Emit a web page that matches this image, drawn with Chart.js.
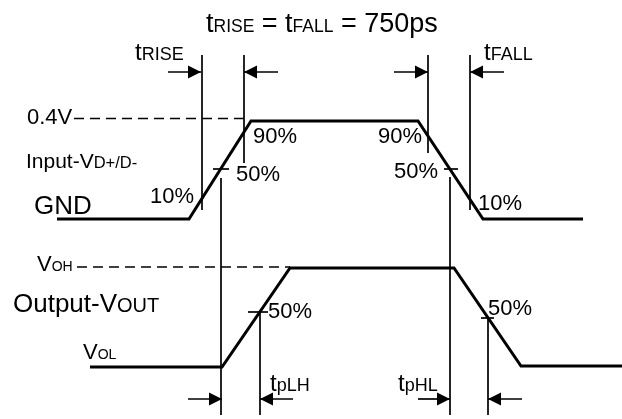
<!DOCTYPE html>
<html>
<head>
<meta charset="utf-8">
<script src="https://cdn.jsdelivr.net/npm/chart.js@4.4.1/dist/chart.umd.min.js"></script>
<style>
  html, body { margin: 0; padding: 0; background: #fff; }
  #wrap { width: 622px; height: 419px; }
</style>
</head>
<body>
<div id="wrap"><canvas id="timing" width="622" height="419"></canvas></div>
<script>
// diagram units: x runs 0..622 left to right, y runs 0..419 top to bottom
var inputX = [57, 189, 251, 418, 483, 583];
var inputY = [219, 219, 121, 121, 219, 219];
var outputX = [90, 222, 290, 454, 521, 622];
var outputY = [367, 367, 268, 268, 366, 366];

// dashed reference levels (0.4V and VOH)
var levelY = [118.5, 267];
var levelStart = [74, 77];
var levelEnd = [249, 290];

// vertical measurement lines
var markerX = [202, 244, 428, 470, 221, 450, 260, 488];
var markerTop = [55, 55, 55, 55, 178, 177, 312, 318];
var markerBottom = [210, 163, 153, 210, 415, 415, 415, 415];

// short 50% ticks
var tickY = [169, 169, 312, 318];
var tickStart = [213, 444, 248, 481];
var tickEnd = [229, 458, 268, 494];

// arrows: tail -> head
var arrowY = [72, 72, 72, 72, 399, 399, 399, 399];
var arrowTail = [168, 278, 394, 504, 188, 293, 418, 522];
var arrowHead = [201, 244, 428, 470, 222, 260, 450, 488];

// labels: [x, baseline, [text, size], [text, size] ...]
var labels = [
    [206, 32, ["t", 27], ["RISE", 17.5], [" = t", 27], ["FALL", 17.5], [" = 750ps", 27]],
    [135, 60, ["t", 24], ["RISE", 18]],
    [484, 60, ["t", 24], ["FALL", 18]],
    [27, 124, ["0.4V", 22]],
    [26, 168, ["Input-V", 21], ["D+/D-", 16.5]],
    [34, 214, ["GND", 26]],
    [150, 203, ["10%", 22]],
    [236, 181, ["50%", 22]],
    [253, 143, ["90%", 22]],
    [378, 143, ["90%", 22]],
    [394, 178, ["50%", 22]],
    [478, 210, ["10%", 22]],
    [37, 271, ["V", 22], ["OH", 14]],
    [13, 312, ["Output-V", 26], ["OUT", 20]],
    [83, 359, ["V", 22], ["OL", 14]],
    [268, 318, ["50%", 22]],
    [488, 315, ["50%", 22]],
    [270, 391, ["t", 24], ["pLH", 18]],
    [398, 391, ["t", 24], ["pHL", 18]]
];

var fontFamily = "'Liberation Sans', Arial, sans-serif";

function seg(x1, y1, x2, y2, width, dash) {
    return {
        data: [{x: x1, y: y1}, {x: x2, y: y2}],
        borderColor: "#000",
        borderWidth: width,
        borderDash: dash || [],
        pointRadius: 0,
        fill: false,
        tension: 0
    };
}

var datasets = [];
var inputData = [], outputData = [];
for (let i = 0; i < inputX.length; i++) inputData.push({x: inputX[i], y: inputY[i]});
for (let i = 0; i < outputX.length; i++) outputData.push({x: outputX[i], y: outputY[i]});
datasets.push({data: inputData, borderColor: "#000", borderWidth: 3, pointRadius: 0, tension: 0, borderJoinStyle: "miter"});
datasets.push({data: outputData, borderColor: "#000", borderWidth: 3, pointRadius: 0, tension: 0, borderJoinStyle: "miter"});

for (let i = 0; i < levelY.length; i++)
    datasets.push(seg(levelStart[i], levelY[i], levelEnd[i], levelY[i], 1.7, [10, 6]));
for (let i = 0; i < markerX.length; i++)
    datasets.push(seg(markerX[i], markerTop[i], markerX[i], markerBottom[i], 1.7));
for (let i = 0; i < tickY.length; i++)
    datasets.push(seg(tickStart[i], tickY[i], tickEnd[i], tickY[i], 1.7));
for (let i = 0; i < arrowY.length; i++)
    datasets.push(seg(arrowTail[i], arrowY[i], arrowHead[i], arrowY[i], 1.7));

var annotationsPlugin = {
    id: "annotations",
    afterDatasetsDraw: function (chart) {
        let ctx = chart.ctx;
        let xs = chart.scales.x, ys = chart.scales.y;
        ctx.save();
        ctx.fillStyle = "#000";
        // arrow heads
        for (let i = 0; i < arrowY.length; i++) {
            let hx = xs.getPixelForValue(arrowHead[i]);
            let hy = ys.getPixelForValue(arrowY[i]);
            let dir = arrowHead[i] > arrowTail[i] ? 1 : -1;
            ctx.beginPath();
            ctx.moveTo(hx, hy);
            ctx.lineTo(hx - dir * 13, hy - 6.5);
            ctx.lineTo(hx - dir * 13, hy + 6.5);
            ctx.closePath();
            ctx.fill();
        }
        // texts
        ctx.textBaseline = "alphabetic";
        ctx.textAlign = "left";
        for (let lab of labels) {
            let px = xs.getPixelForValue(lab[0]);
            let py = ys.getPixelForValue(lab[1]);
            for (let k = 2; k < lab.length; k++) {
                ctx.font = lab[k][1] + "px " + fontFamily;
                ctx.fillText(lab[k][0], px, py);
                px += ctx.measureText(lab[k][0]).width;
            }
        }
        ctx.restore();
    }
};

new Chart(document.getElementById("timing").getContext("2d"), {
    type: "line",
    data: {datasets: datasets},
    options: {
        responsive: false,
        animation: false,
        layout: {padding: 0},
        plugins: {legend: {display: false}, tooltip: {enabled: false}},
        scales: {
            x: {type: "linear", min: 0, max: 622, display: false},
            y: {type: "linear", min: 0, max: 419, reverse: true, display: false}
        }
    },
    plugins: [annotationsPlugin]
});
</script>
</body>
</html>
